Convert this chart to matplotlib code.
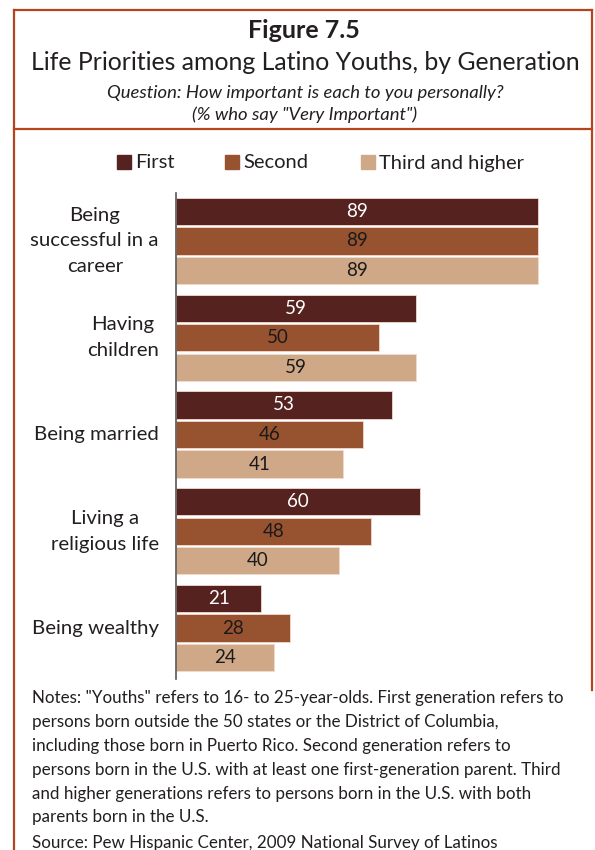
import numpy as np
import matplotlib.pyplot as plt
from matplotlib.lines import Line2D
from matplotlib.patches import Rectangle
from matplotlib.transforms import blended_transform_factory

plt.rcParams['font.family'] = ['Lato', 'DejaVu Sans']

# Dados: % que diz "Very Important", por geração
categories = ['Being\nsuccessful in a\ncareer', 'Having\nchildren', 'Being married',
              'Living a\nreligious life', 'Being wealthy']
series_names = ['First', 'Second', 'Third and higher']
first = [89, 59, 53, 60, 21]
second = [89, 50, 46, 48, 28]
third = [89, 59, 41, 40, 24]

notes_lines = [
    'Notes: "Youths" refers to 16- to 25-year-olds. First generation refers to',
    'persons born outside the 50 states or the District of Columbia,',
    'including those born in Puerto Rico. Second generation refers to',
    'persons born in the U.S. with at least one first-generation parent. Third',
    'and higher generations refers to persons born in the U.S. with both',
    'parents born in the U.S.',
    'Source: Pew Hispanic Center, 2009 National Survey of Latinos',
]

colors = ['#55221f', '#97522f', '#cfa888']
label_colors = ['white', '#1a1a1a', '#1a1a1a']
border = '#b5441c'
text_col = '#231f20'

W, H = 595, 850
fig = plt.figure(figsize=(W / 100, H / 100), dpi=100)

def fx(px):
    return px / W

def fy(py):
    return 1 - py / H

# Moldura
for (x0, y0, x1, y1) in [(14, 10, 592, 10), (14, 10, 14, 850), (592, 10, 592, 690),
                         (14, 129, 592, 129)]:
    fig.add_artist(Line2D([fx(x0), fx(x1)], [fy(y0), fy(y1)], color=border, lw=1.6,
                          transform=fig.transFigure))

# Títulos
fig.text(fx(304), fy(31), 'Figure 7.5', ha='center', va='center', fontsize=18,
         fontweight='bold', color=text_col)
fig.text(fx(305), fy(63), 'Life Priorities among Latino Youths, by Generation',
         ha='center', va='center', fontsize=17.9, color=text_col)
fig.text(fx(305), fy(93), 'Question: How important is each to you personally?',
         ha='center', va='center', fontsize=13.3, style='italic', color=text_col)
fig.text(fx(305), fy(115), '(% who say "Very Important")',
         ha='center', va='center', fontsize=13.3, style='italic', color=text_col)

# Legenda
leg_x = [117, 225, 361]
for i, name in enumerate(series_names):
    fig.add_artist(Rectangle((fx(leg_x[i]), fy(169)), fx(14), 14 / H, color=colors[i],
                             transform=fig.transFigure))
    fig.text(fx(leg_x[i] + 18), fy(163), name, ha='left', va='center', fontsize=14.5,
             color=text_col)

# Gráfico de barras
ax = fig.add_axes([fx(176), fy(679), fx(406.7), (679 - 193) / H])
y = np.arange(len(categories))
off = 0.305
h = 0.28
for i, vals in enumerate([first, second, third]):
    bars = ax.barh(y + (i - 1) * off, vals, height=h, color=colors[i],
                   edgecolor='#f2d9cc', linewidth=0.6)
    for bar, v in zip(bars, vals):
        ax.text(bar.get_width() / 2, bar.get_y() + bar.get_height() / 2, str(v),
                ha='center', va='center', fontsize=13.5, color=label_colors[i])

ax.set_xlim(0, 100)
ax.set_ylim(4.527, -0.496)
ax.set_yticks([])
ax.set_xticks([])

# Rótulos das categorias, centrados em bloco alinhado à direita
trans = blended_transform_factory(fig.transFigure, ax.transData)
for yi, cat in zip(y, categories):
    ax.text(fx(159), yi, cat, transform=trans, ha='right', va='center',
            multialignment='center', fontsize=14.7, linespacing=1.62, color=text_col)

for s in ['top', 'right', 'bottom']:
    ax.spines[s].set_visible(False)
ax.spines['left'].set_color('#555555')
ax.spines['left'].set_linewidth(1.2)

# Notas e fonte
note_y = [698, 722, 746, 770, 794, 817, 843]
for ny, line in zip(note_y, notes_lines):
    fig.text(fx(32), fy(ny), line, ha='left', va='center', fontsize=12.25, color=text_col)

fig.savefig('out.png', dpi=100)
